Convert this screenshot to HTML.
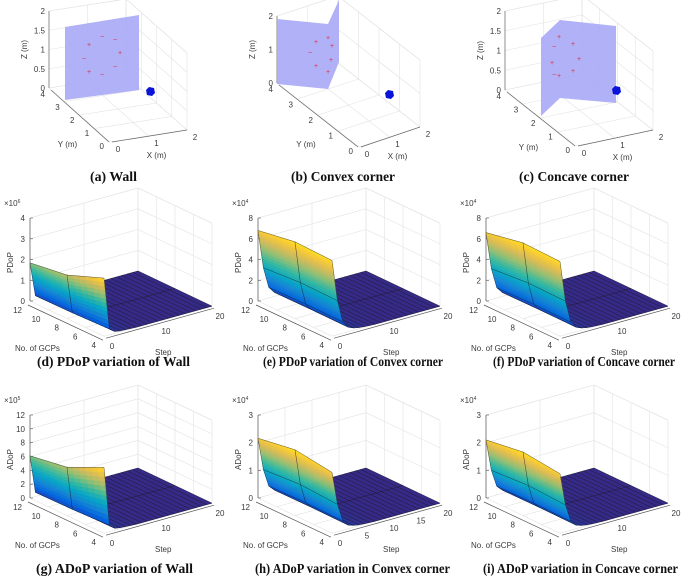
<!DOCTYPE html>
<html><head><meta charset="utf-8"><style>
html,body{margin:0;padding:0;background:#fff;}
svg{display:block;font-family:"Liberation Sans",sans-serif;}
.cap{font-family:"Liberation Serif",serif;font-size:13.5px;fill:#111;font-weight:bold;}
.tk{font-size:8px;fill:#3a3a3a;}
</style></head><body>
<svg id="fig" width="685" height="577" viewBox="0 0 685 577" xmlns="http://www.w3.org/2000/svg">
<rect width="685" height="577" fill="#fff"/>
</svg>
<script>
// ---- chart data ----
const gcps = [4, 8, 12];
const steps = [0,1,2,3,4,5,6,7,8,9,10,11,12,13,14,15,16,17,18,19,20];
const pdopWall = [2.8, 2.1, 1.84];
const pdopConvex = [7.3, 7.4, 6.8];
const pdopConcave = [7.2, 7.3, 6.6];
const adopWall = [9.5, 7.0, 6.1];
const adopConvex = [2.2, 2.38, 2.16];
const adopConcave = [2.15, 2.3, 2.1];
const wallDecay = [1,0.1,0.03,0.015,0.01,0.005,0,0,0,0,0,0,0,0,0,0,0,0,0,0,0];
const cornerDecay = [1,0.45,0.15,0.06,0.03,0.015,0.008,0.004,0,0,0,0,0,0,0,0,0,0,0,0,0];
const gcpTicks = [4,6,8,10,12];
const stepTicks = [0,10,20];
const stepTicksFine = [0,5,10,15,20];
const zTicksD = [0,1,2,3,4];
const zTicksE = [0,2,4,6,8];
const zTicksG = [0,2,4,6,8,10,12];
const zTicksH = [0,1,2,3];

const NS = "http://www.w3.org/2000/svg";
const fig = document.getElementById('fig');
function el(tag, attrs, parent, text){
  const e = document.createElementNS(NS, tag);
  for (const k in attrs) e.setAttribute(k, attrs[k]);
  if (text !== undefined) e.textContent = text;
  (parent || fig).appendChild(e);
  return e;
}
const parula = [[53,42,135],[3,99,225],[20,133,212],[6,167,198],[56,185,158],[146,191,115],[217,186,86],[252,206,46],[249,251,14]];
function pcol(t){
  t = Math.max(0, Math.min(1, t)) * 0.93;
  const f = t * (parula.length - 1), i = Math.min(parula.length - 2, Math.floor(f)), r = f - i;
  const c = parula[i].map((v, k) => Math.round(v + (parula[i+1][k] - v) * r));
  return 'rgb(' + c.join(',') + ')';
}

// ---- surface panels ----
const panels = [
  {name:'pdop-wall', ox:0, oy:190, floor:111, ztop:28, zTicks:zTicksD, exp:'6', label:'PDoP', peak:pdopWall, decay:wallDecay, sTicks:stepTicks, cap:'(d) PDoP variation of Wall', capX:37, capW:153, capY:366},
  {name:'pdop-convex', ox:228, oy:190, floor:111, ztop:28, zTicks:zTicksE, exp:'4', label:'PDoP', peak:pdopConvex, decay:cornerDecay, sTicks:stepTicks, cap:'(e) PDoP variation of Convex corner', capX:35, capW:180, capY:366},
  {name:'pdop-concave', ox:456, oy:190, floor:111, ztop:28, zTicks:zTicksE, exp:'4', label:'PDoP', peak:pdopConcave, decay:cornerDecay, sTicks:stepTicks, cap:'(f) PDoP variation of Concave corner', capX:37, capW:182, capY:366},
  {name:'adop-wall', ox:0, oy:380, floor:118, ztop:35, zTicks:zTicksG, exp:'5', label:'ADoP', peak:adopWall, decay:wallDecay, sTicks:stepTicks, cap:'(g) ADoP variation of Wall', capX:36, capW:157, capY:573},
  {name:'adop-convex', ox:228, oy:380, floor:118, ztop:35, zTicks:zTicksH, exp:'4', label:'ADoP', peak:adopConvex, decay:cornerDecay, sTicks:stepTicksFine, cap:'(h) ADoP variation in Convex corner', capX:27, capW:195, capY:573},
  {name:'adop-concave', ox:456, oy:380, floor:118, ztop:35, zTicks:zTicksH, exp:'4', label:'ADoP', peak:adopConcave, decay:cornerDecay, sTicks:stepTicks, cap:'(i) ADoP variation in Concave corner', capX:27, capW:195, capY:573}
];

function drawSurfacePanel(pn){
  const g = el('g', {});
  
  
  const zmax = pn.zTicks[pn.zTicks.length - 1];
  const zs = (pn.floor - pn.ztop) / zmax;
  const P = (gc, st, z) => [pn.ox + 30 + (12 - gc) * 9.25 + st * 5.4, pn.oy + pn.floor + (12 - gc) * 4.4 - st * 1.5 - z * zs];
  const line = (a, b, stroke, w, name) => {
    const l = el('line', {x1:a[0].toFixed(1), y1:a[1].toFixed(1), x2:b[0].toFixed(1), y2:b[1].toFixed(1), stroke:stroke, 'stroke-width':w}, g);
    
    
  };
  const grid = '#e3e3e3';
  pn.zTicks.forEach(z => { line(P(12,0,z), P(12,20,z), grid, 0.6, 'grid-line'); line(P(12,20,z), P(4,20,z), grid, 0.6, 'grid-line'); });
  pn.sTicks.forEach(s => { line(P(12,s,0), P(12,s,zmax), grid, 0.6, 'grid-line'); line(P(12,s,0), P(4,s,0), grid, 0.6, 'grid-line'); });
  gcpTicks.forEach(c => { line(P(c,20,0), P(c,20,zmax), grid, 0.6, 'grid-line'); line(P(c,0,0), P(c,20,0), grid, 0.6, 'grid-line'); });
  line(P(12,20,zmax), P(4,20,zmax), grid, 0.6, 'box-edge');
  line(P(12,0,zmax), P(12,20,zmax), grid, 0.6, 'box-edge');
  line(P(12,0,0), P(12,0,zmax), '#555', 0.7, 'z-axis');
  line([P(12,0,0)[0]-2, P(12,0,0)[1]+4], [P(4,0,0)[0]-1, P(4,0,0)[1]+4], '#555', 0.7, 'gcp-axis');
  line([P(4,0,0)[0]+2, P(4,0,0)[1]+2], [P(4,20,0)[0]+2, P(4,20,0)[1]+2], '#555', 0.7, 'step-axis');
  pn.zTicks.forEach(z => {
    const p = P(12,0,z);
    line(p, [p[0]+3, p[1]], '#555', 0.6, 'z-tick');
    const t = el('text', {x:(p[0]-5).toFixed(1), y:(p[1]+3).toFixed(1), 'text-anchor':'end', class:'tk'}, g, String(z));
    
    
  });
  gcpTicks.forEach(c => {
    const p = P(c,0,0);
    const t = el('text', {x:(p[0]-8).toFixed(1), y:(p[1]+12).toFixed(1), 'text-anchor':'end', class:'tk'}, g, String(c));
    
    
  });
  pn.sTicks.forEach(s => {
    const p = P(4,s,0);
    const t = el('text', {x:(p[0]+8).toFixed(1), y:(p[1]+13).toFixed(1), 'text-anchor':'middle', class:'tk'}, g, String(s));
    
    
  });
  const ex = el('text', {x:pn.ox+4, y:pn.oy+pn.ztop-12, class:'tk', 'font-size':'7'}, g, '×10');
  
  
  el('tspan', {dy:'-3', 'font-size':'5'}, ex, pn.exp);
  const zl = el('text', {x:0, y:0, class:'tk', 'font-size':'9', 'text-anchor':'middle', transform:'translate(' + (pn.ox+13) + ',' + (pn.oy + (pn.floor + pn.ztop)/2 + 3) + ') rotate(-90)'}, g, pn.label);
  
  
  const gl = el('text', {x:pn.ox+15, y:pn.oy+pn.floor+50, class:'tk', 'font-size':'9'}, g, 'No. of GCPs');
  
  
  const sl = el('text', {x:pn.ox+155, y:pn.oy+pn.floor+54, class:'tk', 'font-size':'9'}, g, 'Step');
  
  

  const pmax = Math.max(...pn.peak);
  const Z = (gi, si) => pn.peak[gi] * pn.decay[si];
  const quads = [];
  for (let gi = 0; gi < gcps.length - 1; gi++) for (let si = 0; si < steps.length - 1; si++) {
    const cg = (gcps[gi] + gcps[gi+1]) / 2, cs = (steps[si] + steps[si+1]) / 2;
    quads.push({gi, si, depth: P(cg, cs, 0)[1]});
  }
  quads.sort((a, b) => a.depth - b.depth);
  const sg = el('g', {}, g);
  
  
  quads.forEach(q => {
    const {gi, si} = q;
    const z00 = Z(gi,si), z10 = Z(gi+1,si), z01 = Z(gi,si+1), z11 = Z(gi+1,si+1);
    const rng = Math.max(z00,z10,z01,z11) - Math.min(z00,z10,z01,z11);
    const M = rng / pmax > 0.02 ? 12 : 1, N = rng / pmax > 0.02 ? 6 : 1;
    for (let a = 0; a < N; a++) for (let b = 0; b < M; b++) {
      const pts = [[a/N,b/M],[(a+1)/N,b/M],[(a+1)/N,(b+1)/M],[a/N,(b+1)/M]].map(([u,v]) => {
        const gc = gcps[gi] + (gcps[gi+1]-gcps[gi]) * u, st = steps[si] + (steps[si+1]-steps[si]) * v;
        const z = z00*(1-u)*(1-v) + z10*u*(1-v) + z01*(1-u)*v + z11*u*v;
        return {p:P(gc, st, z), z};
      });
      const zc = pts.reduce((s, o) => s + o.z, 0) / 4;
      const c = pcol(zc / pmax);
      const poly = el('polygon', {points: pts.map(o => o.p[0].toFixed(2)+','+o.p[1].toFixed(2)).join(' '), fill:c, stroke:c, 'stroke-width':0.35}, sg);
      
      
    }
    const corners = [[gi,si],[gi+1,si],[gi+1,si+1],[gi,si+1]].map(([a,b]) => P(gcps[a], steps[b], Z(a,b)));
    const edge = el('polygon', {points: corners.map(p => p[0].toFixed(2)+','+p[1].toFixed(2)).join(' '), fill:'none', stroke:'#161616', 'stroke-width':0.45, 'stroke-opacity':0.75}, sg);
    
    
  });
  const cap = el('text', {x:pn.ox+pn.capX, y:pn.capY, class:'cap', textLength:pn.capW, lengthAdjust:'spacingAndGlyphs'}, fig, pn.cap);
  
  
}
panels.forEach(drawSurfacePanel);

// ---- top row scenes ----
const scenes = [
  {name:'wall-scene', ox:0, zx:49, zTop:11, z0:88, B:[110,142], C:[187,130], zTicks:[0,0.5,1,1.5,2], cap:'(a) Wall', capX:90, capW:47,
   planes:[[[65,27],[139,15],[139,90],[65,100]]], cube:[146,89],
   marks:[[89,47,'+'],[102,39,'−'],[115,42,'−'],[120,55,'+'],[84,61,'−'],[89,74,'+'],[102,77,'−'],[115,69,'−']]},
  {name:'convex-scene', ox:228, zx:49, zTop:16, z0:83, B:[131,147], C:[192,127], zTicks:[0,1,2], cap:'(b) Convex corner', capX:63, capW:104,
   planes:[[[49,19],[100,24],[100,89],[49,84]],[[100,24],[111,0],[111,62],[100,89]]], cube:[157,92],
   marks:[[88,44,'+'],[100,40,'+'],[104,48,'+'],[82,55,'−'],[103,62,'+'],[88,68,'+'],[100,74,'+']]},
  {name:'concave-scene', ox:456, zx:49, zTop:11, z0:90, B:[120,146], C:[197,130], zTicks:[0,0.5,1,1.5,2], cap:'(c) Concave corner', capX:63, capW:110,
   planes:[[[85,38],[104,20],[104,98],[85,116]],[[104,20],[160,26],[160,103],[104,98]]], cube:[156,88],
   marks:[[103,39,'+'],[98,49,'−'],[117,46,'+'],[123,61,'+'],[96,65,'+'],[117,73,'+'],[98,77,'−'],[103,78,'+']]}
];
function drawScene(sc){
  const g = el('g', {transform:'translate(' + sc.ox + ',0)'});
  
  
  const A = [sc.zx, sc.z0], B = sc.B, C = sc.C, D = [A[0] + C[0] - B[0], A[1] + C[1] - B[1]];
  const h = sc.z0 - sc.zTop;
  const up = (p, f) => [p[0], p[1] - h * f];
  const line = (a, b, stroke, w, name) => {
    const l = el('line', {x1:a[0], y1:a[1], x2:b[0], y2:b[1], stroke:stroke, 'stroke-width':w}, g);
    
    
  };
  const grid = '#e2e2e2';
  const zmax = sc.zTicks[sc.zTicks.length-1];
  sc.zTicks.forEach(z => { const f = z / zmax; line(up(A,f), up(D,f), grid, 0.6, 'grid-line'); line(up(D,f), up(C,f), grid, 0.6, 'grid-line'); });
  const lerp = (p, q, t) => [p[0] + (q[0]-p[0])*t, p[1] + (q[1]-p[1])*t];
  [0,0.25,0.5,0.75,1].forEach(t => { line(lerp(A,B,t), lerp(D,C,t), grid, 0.6, 'grid-line'); line(lerp(D,C,t), up(lerp(D,C,t),1), grid, 0.6, 'grid-line'); });
  [0,0.5,1].forEach(t => { line(lerp(B,C,t), lerp(A,D,t), grid, 0.6, 'grid-line'); line(lerp(A,D,t), up(lerp(A,D,t),1), grid, 0.6, 'grid-line'); });
  line(up(A,1), up(D,1), grid, 0.6, 'box-edge');
  line(up(D,1), up(C,1), grid, 0.6, 'box-edge');
  line(A, up(A,1), '#666', 0.7, 'z-axis');
  line([A[0]+2, A[1]+2], [B[0]-1, B[1]], '#666', 0.7, 'y-axis');
  line([B[0]+2, B[1]], C, '#666', 0.7, 'x-axis');
  sc.zTicks.forEach(z => {
    const p = up(A, z / zmax);
    const t = el('text', {x:p[0]-4, y:p[1]+3, 'text-anchor':'end', class:'tk'}, g, String(z));
    
    
  });
  [4,3,2,1,0].forEach((v, i) => {
    const p = lerp([A[0]+2, A[1]+2], B, i / 4);
    const t = el('text', {x:p[0]-6, y:p[1]+7, 'text-anchor':'end', class:'tk'}, g, String(v));
    
    
  });
  [0,1,2].forEach((v, i) => {
    const p = lerp(B, C, i / 2);
    const t = el('text', {x:p[0]+8, y:p[1]+10, 'text-anchor':'middle', class:'tk'}, g, String(v));
    
    
  });
  const zl = el('text', {x:0, y:0, class:'tk', 'font-size':'8.5', 'text-anchor':'middle', transform:'translate(' + (A[0]-22) + ',' + ((A[1] + sc.zTop)/2) + ') rotate(-90)'}, g, 'Z (m)');
  
  
  const yl = el('text', {x:(A[0]+B[0])/2 - 12, y:(A[1]+B[1])/2 + 32, class:'tk', 'font-size':'8.5', 'text-anchor':'middle'}, g, 'Y (m)');
  
  
  const xl = el('text', {x:(B[0]+C[0])/2 + 8, y:(B[1]+C[1])/2 + 22, class:'tk', 'font-size':'8.5', 'text-anchor':'middle'}, g, 'X (m)');
  
  
  sc.planes.forEach(pl => {
    const p = el('polygon', {points: pl.map(q => q.join(',')).join(' '), fill:'#a9a9f7', 'fill-opacity':0.9}, g);
    
    
  });
  sc.marks.forEach(m => {
    const t = el('text', {x:m[0], y:m[1], 'text-anchor':'middle', 'font-size':'7', fill:'#e0303a'}, g, m[2]);
    
    
  });
  const cb = el('polygon', {points: [[sc.cube[0],sc.cube[1]+1],[sc.cube[0]+3,sc.cube[1]-2],[sc.cube[0]+8,sc.cube[1]-1],[sc.cube[0]+9,sc.cube[1]+4],[sc.cube[0]+6,sc.cube[1]+7],[sc.cube[0]+1,sc.cube[1]+6]].map(q=>q.join(',')).join(' '), fill:'#0a14d8'}, g);
  
  
  const cap = el('text', {x:sc.ox+sc.capX, y:181, class:'cap', textLength:sc.capW, lengthAdjust:'spacingAndGlyphs'}, fig, sc.cap);
  
  
}
scenes.forEach(drawScene);
</script>
</body></html>
